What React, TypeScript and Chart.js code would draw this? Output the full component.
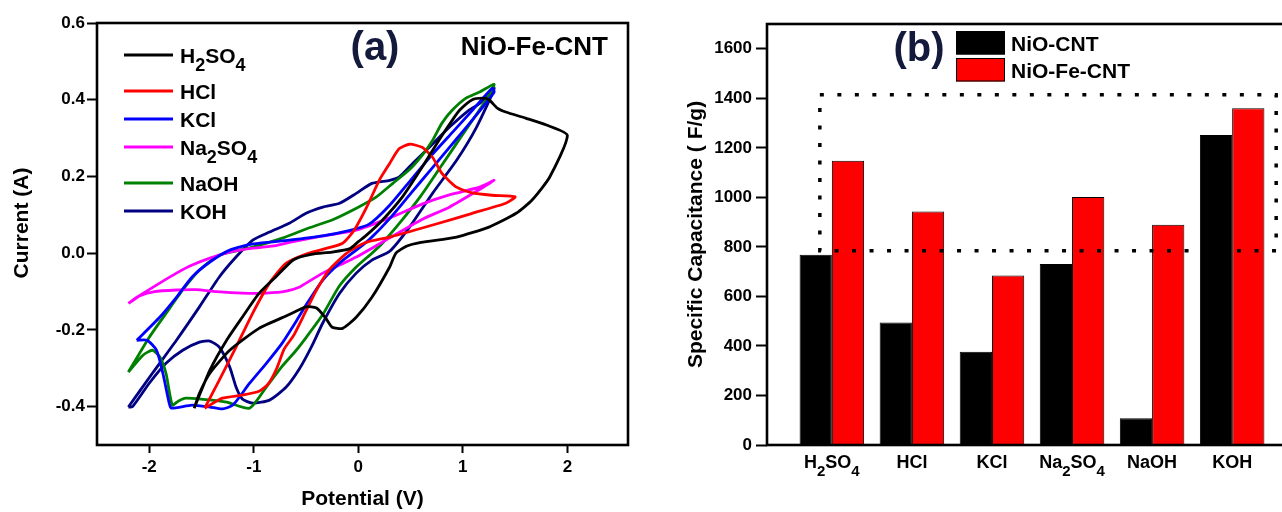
import React, { useEffect, useRef } from 'react';
import { Chart, registerables } from 'chart.js';

Chart.register(...registerables);

const FAMILY = '"Liberation Sans", Arial, Helvetica, sans-serif';

// ---------------- Panel (a): cyclic voltammograms ----------------
const electrolytes = ['H2SO4', 'HCl', 'KCl', 'Na2SO4', 'NaOH', 'KOH'];
const cvColors = ['#000000', '#ff0000', '#0000ff', '#ff00ff', '#008000', '#000080'];

const cvH2SO4: number[][] = [
  [-1.57, -0.404], [-1.42, -0.305], [-1.26, -0.227], [-1.11, -0.167], [-0.95, -0.105], [-0.79, -0.062],
  [-0.62, -0.017], [-0.45, -0.003], [-0.25, 0.003], [-0.08, 0.012], [0.0, 0.03], [0.07, 0.045],
  [0.23, 0.086], [0.42, 0.146], [0.61, 0.224], [0.77, 0.294], [0.9, 0.347], [0.97, 0.373],
  [1.09, 0.4], [1.19, 0.404], [1.25, 0.4], [1.33, 0.378], [1.41, 0.368], [1.6, 0.352],
  [1.8, 0.334], [2.0, 0.307], [1.83, 0.198], [1.66, 0.138], [1.51, 0.104], [1.25, 0.068],
  [0.94, 0.042], [0.6, 0.028], [0.46, 0.018], [0.36, 0.0], [0.3, -0.036], [0.13, -0.115],
  [-0.02, -0.167], [-0.15, -0.196], [-0.25, -0.193], [-0.31, -0.17], [-0.4, -0.143], [-0.5, -0.14],
  [-0.66, -0.16], [-0.95, -0.196], [-1.23, -0.253], [-1.42, -0.313], [-1.52, -0.365], [-1.57, -0.404],
];
const cvHCl: number[][] = [
  [-1.47, -0.404], [-1.33, -0.331], [-1.17, -0.245], [-1.01, -0.156], [-0.85, -0.078], [-0.69, -0.026],
  [-0.5, -0.002], [-0.34, 0.01], [-0.15, 0.026], [-0.04, 0.06], [0.08, 0.12], [0.2, 0.19],
  [0.3, 0.234], [0.39, 0.272], [0.49, 0.284], [0.61, 0.276], [0.71, 0.25], [0.8, 0.208],
  [0.94, 0.172], [1.09, 0.157], [1.28, 0.151], [1.5, 0.147], [1.41, 0.13], [1.09, 0.104],
  [0.77, 0.078], [0.3, 0.042], [0.07, 0.028], [-0.11, 0.0], [-0.28, -0.044], [-0.4, -0.096],
  [-0.5, -0.15], [-0.62, -0.215], [-0.71, -0.25], [-0.78, -0.3], [-0.86, -0.34], [-0.95, -0.36],
  [-1.11, -0.37], [-1.3, -0.378], [-1.47, -0.404],
];
const cvKCl: number[][] = [
  [-2.12, -0.227], [-2.02, -0.227], [-1.93, -0.253], [-1.87, -0.313], [-1.81, -0.39], [-1.79, -0.404],
  [-1.59, -0.396], [-1.42, -0.401], [-1.3, -0.406], [-1.2, -0.396], [-1.04, -0.339], [-0.88, -0.287],
  [-0.73, -0.235], [-0.6, -0.18], [-0.5, -0.135], [-0.34, -0.07], [-0.18, -0.026], [-0.02, 0.008],
  [0.1, 0.034], [0.3, 0.09], [0.5, 0.155], [0.7, 0.22], [0.9, 0.285], [1.1, 0.35], [1.3, 0.42],
  [1.28, 0.43], [1.1, 0.375], [0.9, 0.315], [0.7, 0.255], [0.5, 0.19], [0.3, 0.125], [0.1, 0.075],
  [-0.1, 0.058], [-0.34, 0.045], [-0.66, 0.034], [-1.01, 0.024], [-1.23, 0.008], [-1.42, -0.023],
  [-1.59, -0.062], [-1.74, -0.115], [-1.9, -0.167], [-2.12, -0.227],
];
const cvNa2SO4: number[][] = [
  [-2.2, -0.131], [-2.1, -0.112], [-1.95, -0.1], [-1.74, -0.096], [-1.55, -0.095], [-1.36, -0.1],
  [-1.11, -0.104], [-0.88, -0.104], [-0.69, -0.099], [-0.56, -0.088], [-0.5, -0.078], [-0.34, -0.052],
  [-0.18, -0.031], [-0.02, -0.01], [0.13, 0.013], [0.3, 0.04], [0.61, 0.088], [0.87, 0.12],
  [1.16, 0.166], [1.3, 0.19], [1.16, 0.172], [0.87, 0.152], [0.61, 0.128], [0.3, 0.092],
  [-0.02, 0.06], [-0.34, 0.045], [-0.66, 0.028], [-0.79, 0.02], [-1.01, 0.013], [-1.23, 0.003],
  [-1.42, -0.013], [-1.59, -0.031], [-1.74, -0.052], [-1.9, -0.078], [-2.06, -0.105], [-2.2, -0.131],
];
const cvNaOH: number[][] = [
  [-2.2, -0.31], [-2.06, -0.266], [-1.97, -0.253], [-1.9, -0.27], [-1.84, -0.313], [-1.78, -0.396],
  [-1.72, -0.385], [-1.65, -0.378], [-1.49, -0.381], [-1.26, -0.388], [-1.04, -0.404], [-0.88, -0.349],
  [-0.73, -0.295], [-0.6, -0.255], [-0.5, -0.22], [-0.34, -0.16], [-0.18, -0.085], [-0.02, -0.036],
  [0.13, 0.0], [0.23, 0.026], [0.4, 0.08], [0.6, 0.15], [0.8, 0.23], [1.0, 0.31], [1.2, 0.39],
  [1.3, 0.44], [1.16, 0.42], [1.03, 0.404], [0.9, 0.373], [0.8, 0.339], [0.71, 0.294], [0.61, 0.255],
  [0.49, 0.218], [0.33, 0.182], [0.17, 0.146], [0.0, 0.12], [-0.24, 0.088], [-0.5, 0.063],
  [-0.72, 0.04], [-1.02, 0.015], [-1.33, -0.005], [-1.52, -0.044], [-1.68, -0.096], [-1.84, -0.157],
  [-2.0, -0.219], [-2.2, -0.31],
];
const cvKOH: number[][] = [
  [-2.2, -0.401], [-2.16, -0.4], [-2.0, -0.339], [-1.84, -0.287], [-1.68, -0.253], [-1.52, -0.232],
  [-1.42, -0.229], [-1.33, -0.245], [-1.23, -0.297], [-1.17, -0.349], [-1.11, -0.38], [-1.01, -0.391],
  [-0.85, -0.383], [-0.69, -0.349], [-0.56, -0.3], [-0.45, -0.245], [-0.34, -0.182], [-0.18, -0.105],
  [-0.02, -0.052], [0.13, -0.018], [0.3, 0.005], [0.49, 0.068], [0.71, 0.156], [0.94, 0.242],
  [1.13, 0.328], [1.3, 0.43], [1.16, 0.39], [1.06, 0.373], [0.87, 0.328], [0.68, 0.276], [0.52, 0.234],
  [0.39, 0.198], [0.3, 0.19], [0.13, 0.182], [-0.02, 0.156], [-0.18, 0.13], [-0.34, 0.12],
  [-0.5, 0.104], [-0.66, 0.078], [-0.85, 0.055], [-1.01, 0.034], [-1.17, -0.01], [-1.33, -0.062],
  [-1.52, -0.14], [-1.74, -0.227], [-1.97, -0.313], [-2.2, -0.401],
];
const cvSeries = [cvH2SO4, cvHCl, cvKCl, cvNa2SO4, cvNaOH, cvKOH];
const potentialTicks = [-2, -1, 0, 1, 2];
const currentTicks = [-0.4, -0.2, 0, 0.2, 0.4, 0.6];

// ---------------- Panel (b): specific capacitance bars ----------------
const barSeriesNames = ['NiO-CNT', 'NiO-Fe-CNT'];
const barColors = ['#000000', '#ff0000'];
const nioCnt = [768, 495, 377, 731, 108, 1252];
const nioFeCnt = [1148, 943, 684, 1001, 889, 1360];
const capacitanceTicks = [0, 200, 400, 600, 800, 1000, 1200, 1400, 1600];
const highlightBox = { xMin: -0.15, xMax: 5.55, yMin: 784, yMax: 1414 };

// draw a chemical formula with subscript digits
function drawFormula(ctx: CanvasRenderingContext2D, text: string, x: number, y: number, size: number, align: 'left' | 'center') {
  const parts = text.match(/[^0-9]+|[0-9]+/g) || [];
  const mainFont = `bold ${size}px ${FAMILY}`;
  const subFont = `bold ${Math.round(size * 0.85)}px ${FAMILY}`;
  let total = 0;
  parts.forEach((p) => {
    ctx.font = /^[0-9]+$/.test(p) ? subFont : mainFont;
    total += ctx.measureText(p).width;
  });
  let cx = align === 'center' ? x - total / 2 : x;
  ctx.textAlign = 'left';
  ctx.textBaseline = 'alphabetic';
  parts.forEach((p) => {
    const sub = /^[0-9]+$/.test(p);
    ctx.font = sub ? subFont : mainFont;
    ctx.fillText(p, cx, sub ? y + size * 0.42 : y);
    cx += ctx.measureText(p).width;
  });
}

const tickFont = { family: FAMILY, size: 17, weight: 'bold' as const };
const titleFont = { family: FAMILY, size: 21, weight: 'bold' as const };
const LABEL_NAVY = '#141a3c';

const panelAPlugin = {
  id: 'panelADecor',
  afterDraw(chart: any) {
    const { ctx, chartArea: a } = chart;
    ctx.save();
    ctx.strokeStyle = '#000';
    ctx.lineWidth = 2.6;
    ctx.strokeRect(a.left, a.top, a.right - a.left, a.bottom - a.top);

    ctx.fillStyle = '#000';
    ctx.save();
    ctx.font = `bold 21px ${FAMILY}`;
    ctx.translate(22, 223);
    ctx.rotate(-Math.PI / 2);
    ctx.textAlign = 'center';
    ctx.textBaseline = 'middle';
    ctx.fillText('Current (A)', 0, 0);
    ctx.restore();

    // legend
    let ly = 55;
    chart.data.datasets.forEach((ds: any, i: number) => {
      if (i > 0) ly += /[0-9]/.test(chart.data.datasets[i - 1].label) ? 36 : 28;
      ctx.strokeStyle = ds.borderColor;
      ctx.lineWidth = 3;
      ctx.beginPath();
      ctx.moveTo(124, ly);
      ctx.lineTo(173, ly);
      ctx.stroke();
      ctx.fillStyle = '#000';
      drawFormula(ctx, ds.label, 180, ly + 7.5, 21, 'left');
    });

    ctx.fillStyle = LABEL_NAVY;
    ctx.font = `bold 40px ${FAMILY}`;
    ctx.textAlign = 'center';
    ctx.textBaseline = 'middle';
    ctx.fillText('(a)', 375, 49);

    ctx.fillStyle = '#000';
    ctx.font = `bold 26px ${FAMILY}`;
    ctx.textAlign = 'right';
    ctx.textBaseline = 'alphabetic';
    ctx.fillText('NiO-Fe-CNT', 608, 55);
    ctx.restore();
  },
};

const panelBPlugin = {
  id: 'panelBDecor',
  afterDatasetsDraw(chart: any) {
    const { ctx } = chart;
    const xs = chart.scales.x;
    const ys = chart.scales.y;
    const x0 = xs.getPixelForValue(highlightBox.xMin);
    const x1 = xs.getPixelForValue(highlightBox.xMax);
    const y0 = ys.getPixelForValue(highlightBox.yMin);
    const y1 = ys.getPixelForValue(highlightBox.yMax);
    ctx.save();
    ctx.strokeStyle = '#000';
    ctx.lineWidth = 3.5;
    ctx.setLineDash([4, 13.5]);
    ctx.beginPath();
    ctx.rect(x0, y1, x1 - x0, y0 - y1);
    ctx.stroke();
    ctx.restore();
  },
  afterDraw(chart: any) {
    const { ctx, chartArea: a } = chart;
    const xs = chart.scales.x;
    ctx.save();
    ctx.strokeStyle = '#000';
    ctx.lineWidth = 2.6;
    ctx.strokeRect(a.left, a.top, a.right - a.left, a.bottom - a.top);

    ctx.fillStyle = '#000';
    electrolytes.forEach((name, i) => {
      drawFormula(ctx, name, xs.getPixelForValue(i), 468, 18, 'center');
    });

    // legend
    chart.data.datasets.forEach((ds: any, i: number) => {
      const by = i === 0 ? 31 : 58;
      ctx.fillStyle = ds.backgroundColor;
      ctx.fillRect(316, by, 49, 23.5);
      ctx.strokeStyle = '#000';
      ctx.lineWidth = 1;
      ctx.strokeRect(316.5, by + 0.5, 48, 22.5);
      ctx.fillStyle = '#000';
      drawFormula(ctx, ds.label, 371, by + 20, 21, 'left');
    });

    ctx.fillStyle = LABEL_NAVY;
    ctx.font = `bold 40px ${FAMILY}`;
    ctx.textAlign = 'center';
    ctx.textBaseline = 'middle';
    ctx.fillText('(b)', 279, 50);
    ctx.restore();
  },
};

function PanelA() {
  const ref = useRef<HTMLCanvasElement>(null);
  useEffect(() => {
    const chart = new Chart(ref.current as HTMLCanvasElement, {
      type: 'scatter',
      data: {
        datasets: cvSeries.map((s, i) => ({
          label: electrolytes[i],
          data: s.map(([x, y]) => ({ x, y })),
          showLine: true,
          borderColor: cvColors[i],
          backgroundColor: cvColors[i],
          borderWidth: 2.8,
          pointRadius: 0,
          tension: 0.2,
          fill: false,
        })),
      },
      options: {
        animation: false,
        responsive: false,
        devicePixelRatio: 1,
        layout: { padding: { left: 0, right: 12, top: 23, bottom: 0 } },
        plugins: { legend: { display: false }, tooltip: { enabled: false } },
        scales: {
          x: {
            type: 'linear',
            min: -2.5,
            max: 2.58,
            afterBuildTicks: (s: any) => { s.ticks = potentialTicks.map((v) => ({ value: v })); },
            afterFit: (s: any) => { s.height = 67; },
            ticks: { font: tickFont, color: '#000', padding: 4, autoSkip: false, maxRotation: 0, callback: (v: any) => String(v) },
            grid: { drawOnChartArea: false, drawTicks: true, tickLength: 8, tickWidth: 2, color: '#000' },
            border: { display: false },
            title: { display: true, text: 'Potential (V)', font: titleFont, color: '#000', padding: { top: 0, bottom: 0 } },
          },
          y: {
            type: 'linear',
            min: -0.5,
            max: 0.6,
            afterBuildTicks: (s: any) => { s.ticks = currentTicks.map((v) => ({ value: v })); },
            afterFit: (s: any) => { s.width = 97; },
            ticks: { font: tickFont, color: '#000', padding: 2, autoSkip: false, callback: (v: any) => Number(v).toFixed(1) },
            grid: { drawOnChartArea: false, drawTicks: true, tickLength: 10, tickWidth: 2, color: '#000' },
            border: { display: false },
          },
        },
      },
      plugins: [panelAPlugin],
    } as any);
    return () => chart.destroy();
  }, []);
  return <canvas ref={ref} width={640} height={512} style={{ position: 'absolute', left: 0, top: 0, width: 640, height: 512 }} />;
}

function PanelB() {
  const ref = useRef<HTMLCanvasElement>(null);
  useEffect(() => {
    const series = [nioCnt, nioFeCnt];
    const chart = new Chart(ref.current as HTMLCanvasElement, {
      type: 'bar',
      data: {
        datasets: series.map((vals, k) => ({
          label: barSeriesNames[k],
          data: vals.map((v, i) => ({ x: i, y: v })),
          backgroundColor: barColors[k],
          borderColor: '#000',
          borderWidth: 1,
          barPercentage: 1,
          categoryPercentage: 0.806,
        })),
      },
      options: {
        animation: false,
        responsive: false,
        devicePixelRatio: 1,
        layout: { padding: { left: 0, right: 23, top: 24, bottom: 0 } },
        plugins: { legend: { display: false }, tooltip: { enabled: false } },
        scales: {
          x: {
            type: 'linear',
            min: -0.81,
            max: 5.81,
            offset: false,
            afterBuildTicks: (s: any) => { s.ticks = electrolytes.map((_, i) => ({ value: i })); },
            afterFit: (s: any) => { s.height = 67; },
            ticks: { display: false },
            grid: { display: false },
            border: { display: false },
          },
          y: {
            type: 'linear',
            min: 0,
            max: 1700,
            afterBuildTicks: (s: any) => { s.ticks = capacitanceTicks.map((v) => ({ value: v })); },
            afterFit: (s: any) => { s.width = 127; },
            ticks: { font: tickFont, color: '#000', padding: 4, autoSkip: false, callback: (v: any) => String(v) },
            grid: { drawOnChartArea: false, drawTicks: true, tickLength: 11, tickWidth: 2, color: '#000' },
            border: { display: false },
            title: { display: true, text: 'Specific Capacitance ( F/g)', font: titleFont, color: '#000', padding: { top: 44, bottom: 0 } },
          },
        },
      },
      plugins: [panelBPlugin],
    } as any);
    return () => chart.destroy();
  }, []);
  return <canvas ref={ref} width={680} height={512} style={{ position: 'absolute', left: 640, top: 0, width: 680, height: 512 }} />;
}

export default function App() {
  return (
    <div style={{ position: 'absolute', left: 0, top: 0, width: 1282, height: 512, overflow: 'hidden', background: '#ffffff' }}>
      <PanelA />
      <PanelB />
    </div>
  );
}
